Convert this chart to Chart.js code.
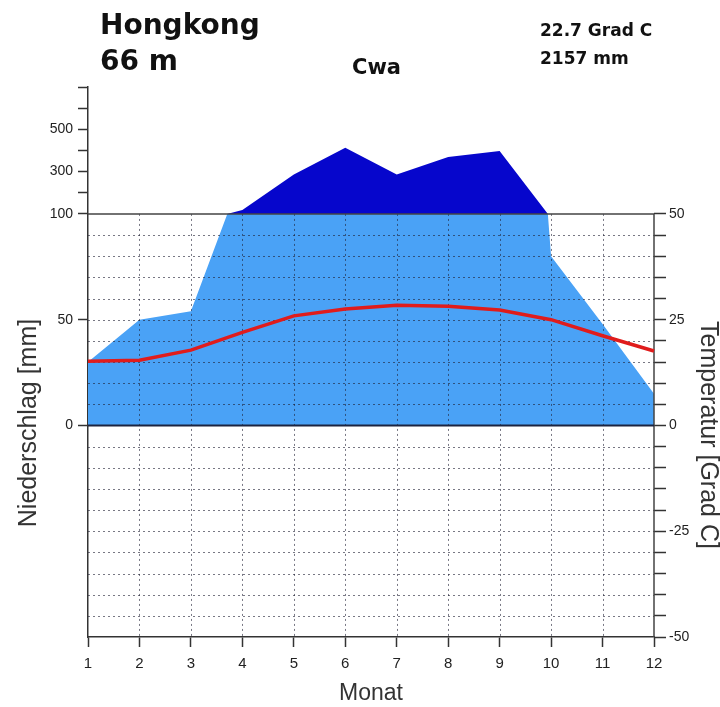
<!DOCTYPE html>
<html>
<head>
<meta charset="utf-8">
<script src="https://cdn.jsdelivr.net/npm/chart.js@4.4.1/dist/chart.umd.min.js"></script>
<style>
  html, body { margin: 0; padding: 0; background: #fff; }
  #wrap { position: relative; width: 720px; height: 707px; overflow: hidden; }
  #wrap canvas { position: absolute; left: 0; top: 0; }
  .lbl { position: absolute; white-space: nowrap; line-height: 1; color: #111; }
  .head { font-family: "DejaVu Sans", sans-serif; font-weight: bold; }
  .axt { font-family: "Liberation Sans", Arial, sans-serif; font-size: 25px; line-height: 30px;
         width: 300px; height: 30px; text-align: center; color: #333; }
</style>
</head>
<body>
<div id="wrap">
  <canvas id="chart" width="720" height="707"></canvas>
  <div class="lbl head" style="left:100px; top:11px; font-size:28px;">Hongkong</div>
  <div class="lbl head" style="left:100px; top:47px; font-size:28px;">66 m</div>
  <div class="lbl head" style="left:352px; top:57px; font-size:21px;">Cwa</div>
  <div class="lbl head" style="left:540px; top:22px; font-size:17px;">22.7 Grad C</div>
  <div class="lbl head" style="left:540px; top:50px; font-size:17px;">2157 mm</div>
  <div class="lbl axt" style="left:-123px; top:408px; transform:rotate(-90deg);">Niederschlag [mm]</div>
  <div class="lbl axt" style="left:560px; top:420px; transform:rotate(90deg);">Temperatur [Grad C]</div>
</div>
<script>
// --- DATA ---
const months = ['1', '2', '3', '4', '5', '6', '7', '8', '9', '10', '11', '12'];
const precip = [30, 50, 54, 119, 286, 413, 286, 369, 397, 80, 48, 15];          // mm
const temps = [15.2, 15.4, 17.8, 22.0, 25.9, 27.5, 28.4, 28.2, 27.3, 25.0, 21.2, 17.6]; // Grad C
const precipTicks = [0, 50, 100, 300, 500];
const tempTicks = [-50, -25, 0, 25, 50];

// 10 Grad = 20 mm up to 100 mm, above that 10 Grad = 200 mm
const mmToScale = mm => mm <= 100 ? mm / 2 : 50 + (mm - 100) / 20;
const mmCompressed = mm => 50 + (mm - 100) / 20;

// clip the humid (light blue) fill to the 0..100 mm band
const bandClip = {
    id: 'bandClip',
    beforeDatasetDraw(chart, args) {
        const ds = chart.data.datasets[args.index];
        if (ds.band !== 'humid') return;
        const { ctx, chartArea: a, scales: { y } } = chart;
        const yTop = y.getPixelForValue(50), yZero = y.getPixelForValue(0);
        ctx.save();
        ctx.beginPath();
        ctx.rect(a.left, yTop, a.right - a.left, yZero - yTop);
        ctx.clip();
    },
    afterDatasetDraw(chart, args) {
        const ds = chart.data.datasets[args.index];
        if (ds.band === 'humid') chart.ctx.restore();
        if (ds.band === 'perhumid') drawGrid(chart);
    }
};

function drawGrid(chart) {
    const { ctx, chartArea: a, scales: { x, y } } = chart;
    const yTop = y.getPixelForValue(50), yZero = y.getPixelForValue(0), yBot = y.getPixelForValue(-50);
    ctx.save();
    ctx.lineWidth = 1;
    ctx.strokeStyle = 'rgba(30,30,50,0.6)';
    ctx.setLineDash([2, 3]);
    ctx.beginPath();
    y.ticks.forEach(t => {
        if (Math.abs(t.value) >= 50 || t.value === 0) return;
        const py = Math.round(y.getPixelForValue(t.value)) + 0.5;
        ctx.moveTo(a.left, py);
        ctx.lineTo(a.right, py);
    });
    months.forEach((m, i) => {
        if (i === 0 || i === months.length - 1) return;
        const px = Math.round(x.getPixelForValue(i)) + 0.5;
        ctx.moveTo(px, yTop);
        ctx.lineTo(px, yBot);
    });
    ctx.stroke();
    ctx.setLineDash([]);

    // 100 mm line and the right axis (only up to 50 Grad)
    ctx.strokeStyle = '#444';
    ctx.lineWidth = 1.5;
    ctx.beginPath();
    ctx.moveTo(a.left, yTop);
    ctx.lineTo(a.right, yTop);
    ctx.moveTo(a.right, yTop);
    ctx.lineTo(a.right, yBot);
    ctx.stroke();

    // zero line
    ctx.strokeStyle = '#1c2440';
    ctx.lineWidth = 2;
    ctx.beginPath();
    ctx.moveTo(a.left, yZero);
    ctx.lineTo(a.right, yZero);
    ctx.stroke();
    ctx.restore();
}

// our clip has to run before the filler draws
const filler = Chart.registry.getPlugin('filler');
Chart.unregister(filler);
Chart.register(bandClip, filler);

const tickFont = { family: 'Liberation Sans', size: 14 };

new Chart(document.getElementById('chart'), {
    type: 'line',
    data: {
        labels: months,
        datasets: [
            {
                label: 'Temperatur',
                data: temps,
                borderColor: '#e01c1c',
                borderWidth: 3.5,
                pointRadius: 0,
                fill: false,
                order: 0
            },
            {
                label: 'Niederschlag > 100 mm',
                data: precip.map(mmCompressed),
                band: 'perhumid',
                borderWidth: 0,
                pointRadius: 0,
                fill: { target: { value: 50 }, above: '#0606cc', below: 'rgba(0,0,0,0)' },
                order: 1
            },
            {
                label: 'Niederschlag',
                data: precip.map(p => p / 2),
                band: 'humid',
                borderWidth: 0,
                pointRadius: 0,
                backgroundColor: '#4aa2f6',
                fill: 'origin',
                order: 2
            }
        ]
    },
    options: {
        responsive: false,
        animation: false,
        layout: { padding: { top: 87, left: 0, right: 0, bottom: 0 } },
        plugins: {
            legend: { display: false },
            tooltip: { enabled: false }
        },
        scales: {
            x: {
                offset: false,
                afterFit: s => { s.height = 70; },
                ticks: { padding: 8, autoSkip: false, maxRotation: 0, color: '#222', font: { family: 'Liberation Sans', size: 15 } },
                grid: { drawOnChartArea: false, offset: false, tickLength: 10, tickColor: '#333', tickWidth: 1.5 },
                border: { color: '#333', width: 1.5 },
                title: { display: true, text: 'Monat', color: '#333', padding: 0, font: { family: 'Liberation Sans', size: 23 } }
            },
            y: {
                position: 'left',
                min: -50,
                max: 80,
                afterFit: s => { s.width = 88; },
                ticks: {
                    stepSize: 5,
                    autoSkip: false,
                    padding: 5,
                    color: '#222',
                    font: tickFont,
                    callback: v => {
                        const mm = precipTicks.find(t => mmToScale(t) === v);
                        return mm === undefined ? '' : String(mm);
                    }
                },
                grid: {
                    drawOnChartArea: false,
                    tickLength: 10,
                    tickWidth: 1.5,
                    tickColor: c => (c.tick && (c.tick.value > 50 || precipTicks.some(t => mmToScale(t) === c.tick.value))) ? '#333' : 'rgba(0,0,0,0)'
                },
                border: { color: '#333', width: 1.5 }
            },
            y2: {
                position: 'right',
                min: -50,
                max: 80,
                afterFit: s => { s.width = 66; },
                ticks: {
                    stepSize: 5,
                    autoSkip: false,
                    padding: 3,
                    color: '#222',
                    font: tickFont,
                    callback: v => tempTicks.includes(v) ? String(v) : ''
                },
                grid: {
                    drawOnChartArea: false,
                    tickLength: 12,
                    tickWidth: 1.5,
                    tickColor: c => (c.tick && c.tick.value <= 50) ? '#333' : 'rgba(0,0,0,0)'
                },
                border: { display: false }
            }
        }
    }
});
</script>
</body>
</html>
